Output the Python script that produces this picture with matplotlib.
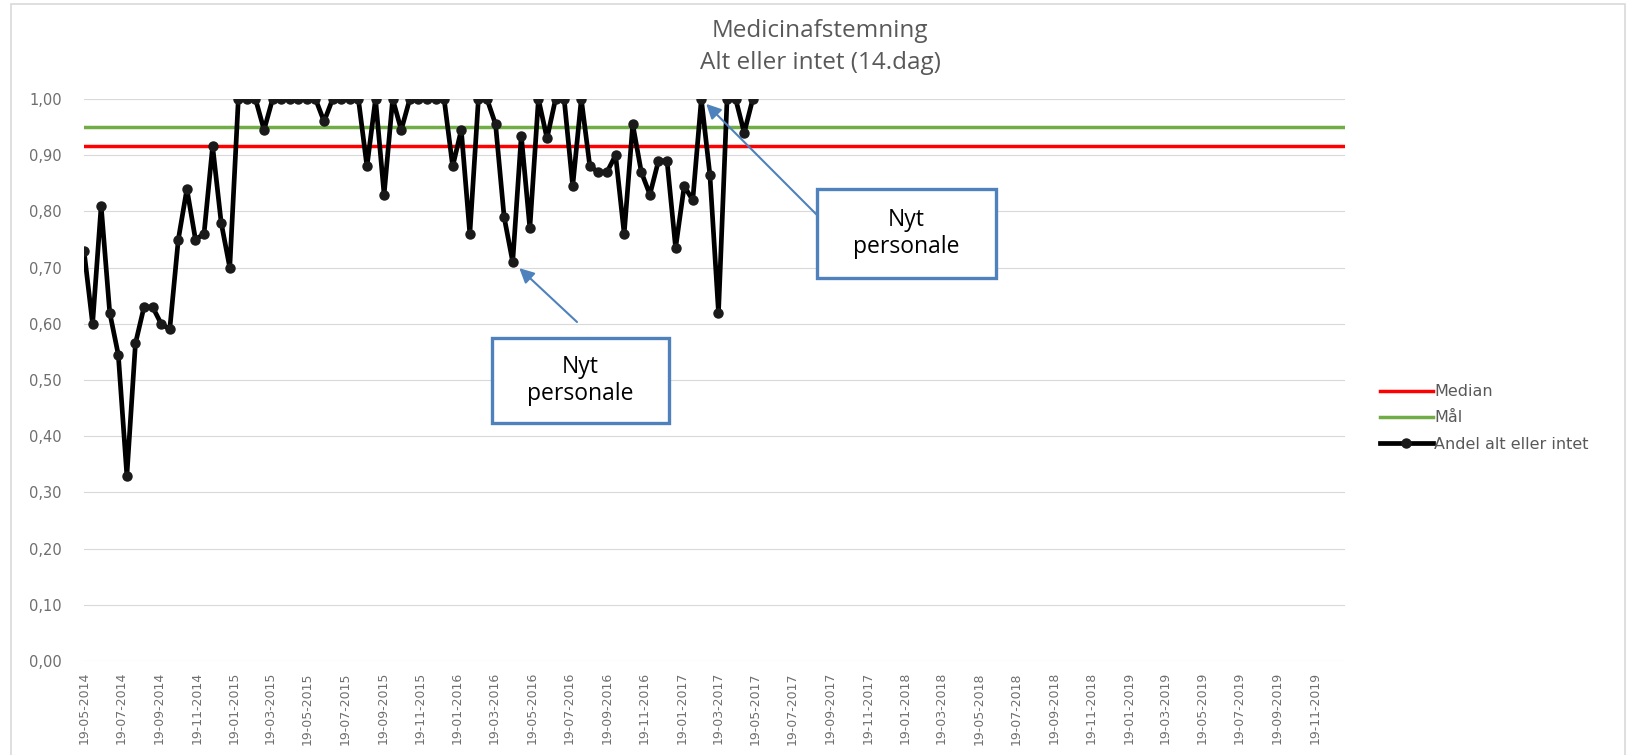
import numpy as np
import pandas as pd
import matplotlib
matplotlib.use("Agg")
import matplotlib.pyplot as plt
import matplotlib.dates as mdates
from matplotlib.patches import Rectangle

# data: share "alt eller intet", one value every 14 days from 19-05-2014
start_date = "2014-05-19"
andel = [
    0.73, 0.60, 0.81, 0.62, 0.545, 0.33, 0.565, 0.63, 0.63, 0.60,
    0.59, 0.75, 0.84, 0.75, 0.76, 0.916, 0.78, 0.70, 1.00, 1.00,
    1.00, 0.945, 1.00, 1.00, 1.00, 1.00, 1.00, 1.00, 0.96, 1.00,
    1.00, 1.00, 1.00, 0.88, 1.00, 0.83, 1.00, 0.945, 1.00, 1.00,
    1.00, 1.00, 1.00, 0.88, 0.945, 0.76, 1.00, 1.00, 0.955, 0.79,
    0.71, 0.935, 0.77, 1.00, 0.93, 1.00, 1.00, 0.845, 1.00, 0.88,
    0.87, 0.87, 0.90, 0.76, 0.955, 0.87, 0.83, 0.89, 0.89, 0.735,
    0.845, 0.82, 1.00, 0.865, 0.62, 1.00, 1.00, 0.94, 1.00,
]
maal = 0.95
axis_end = "2020-01-07"
y_ticks = [0.0, 0.1, 0.2, 0.3, 0.4, 0.5, 0.6, 0.7, 0.8, 0.9, 1.0]
series_labels = ["Median", "Mål", "Andel alt eller intet"]
title_lines = ["Medicinafstemning", "Alt eller intet (14.dag)"]
callout_text = "Nyt\npersonale"
callout_points = [50, 72]   # index of the point each arrow goes to

dates = pd.date_range(start_date, periods=len(andel), freq="14D")
median = np.median(andel)

W, H = 1626, 755
fig = plt.figure(figsize=(W / 100, H / 100), dpi=100)
ax = fig.add_axes([84 / W, 1 - 661 / H, (1345 - 84) / W, (661 - 99) / H])

gray_txt = "#6e6e6e"
blue = "#4f81bd"

ax.axhline(median, color="#ff0000", lw=2.5, label=series_labels[0], zorder=2)
ax.axhline(maal, color="#70ad47", lw=2.5, label=series_labels[1], zorder=2)
ax.plot(dates, andel, color="black", lw=3.4, marker="o", ms=6.5,
        mfc="#1a1a1a", mec="#1a1a1a", label=series_labels[2], zorder=3)

ax.set_xlim(pd.Timestamp(start_date), pd.Timestamp(axis_end))
ax.set_ylim(0, 1.0)
ax.set_yticks(y_ticks)
ax.set_yticklabels([f"{v:.2f}".replace(".", ",") for v in y_ticks])
ax.xaxis.set_major_locator(mdates.MonthLocator(bymonth=(1, 3, 5, 7, 9, 11), bymonthday=19))
ax.xaxis.set_major_formatter(mdates.DateFormatter("%d-%m-%Y"))
ax.tick_params(axis="x", rotation=90, length=0, pad=8, labelsize=9, labelcolor=gray_txt)
ax.tick_params(axis="y", length=0, pad=16, labelsize=10.5, labelcolor=gray_txt)
ax.yaxis.grid(True, color="#d9d9d9", lw=0.8)
ax.set_axisbelow(True)
for s in ax.spines.values():
    s.set_visible(False)
ax.patch.set_alpha(0)

# title
fig.text(820 / W, 1 - 31 / H, title_lines[0], ha="center", va="center",
         fontsize=17.5, color="#595959", family="Open Sans")
fig.text(820 / W, 1 - 63 / H, title_lines[1], ha="center", va="center",
         fontsize=17.5, color="#595959", family="Open Sans")

# legend
leg = ax.legend(loc="center left", bbox_to_anchor=(1380 / W, 1 - 418 / H),
                bbox_transform=fig.transFigure, frameon=False, fontsize=11.5,
                handlelength=3.3, handletextpad=0.1, labelspacing=0.7,
                borderpad=0, borderaxespad=0)
for t in leg.get_texts():
    t.set_color("#595959")


def callout(box, start, idx, shrink):
    x0, y0, x1, y1 = box
    fig.add_artist(Rectangle((x0 / W, 1 - y1 / H), (x1 - x0) / W, (y1 - y0) / H,
                             transform=fig.transFigure, facecolor="white",
                             edgecolor=blue, lw=2.4, zorder=5))
    fig.text((x0 + x1) / 2 / W, 1 - (y0 + y1) / 2 / H, callout_text,
             ha="center", va="center", fontsize=16.5, family="Open Sans",
             linespacing=1.15, zorder=6)
    ax.annotate("", xy=(dates[idx], andel[idx]), xycoords="data",
                xytext=(start[0] / W, 1 - start[1] / H), textcoords="figure fraction",
                arrowprops=dict(arrowstyle="-|>", color=blue, lw=1.5,
                                mutation_scale=22, shrinkA=0, shrinkB=shrink),
                zorder=6, annotation_clip=False)


callout((492, 338, 669, 423), (577, 322), callout_points[0], 6.5)
callout((817, 189, 996, 278), (817, 215), callout_points[1], 5)

# chart area border
fig.add_artist(Rectangle((11 / W, -0.05), (1625 - 11) / W, 1.05 - 4 / H,
                         transform=fig.transFigure, fill=False,
                         edgecolor="#d9d9d9", lw=1.2))

fig.savefig("out.png", dpi=100)
